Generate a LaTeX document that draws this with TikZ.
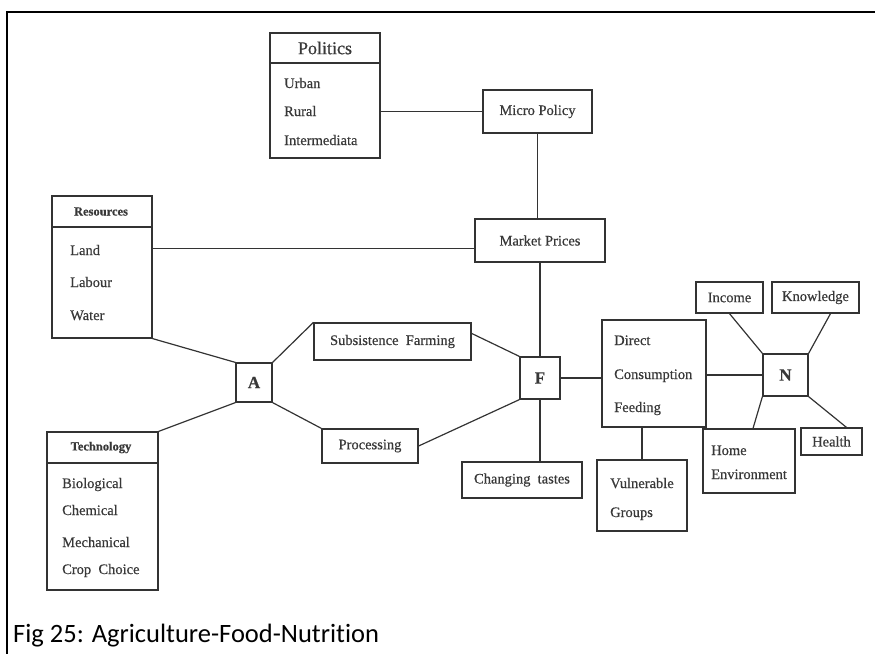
\documentclass[tikz,border=0pt]{standalone}
\usepackage{fontspec}
\setmainfont[FakeBold=0.5]{Liberation Serif}
\newfontfamily\capfont[Ligatures={NoCommon}]{Carlito}
\usetikzlibrary{calc}
\definecolor{ink}{HTML}{333333}
\definecolor{txt}{HTML}{383838}
\tikzset{
  box/.style={draw=ink, line width=1.2pt, inner sep=0pt},
  link/.style={draw=ink, line width=1.2pt},
  lbl/.style={text=txt, font=\fontsize{14.5}{17}\selectfont, inner sep=0pt},
  item/.style={lbl, anchor=base west},
  hub/.style={box, text=txt, font=\bfseries\fontsize{17}{20}\selectfont},
  head/.style={text=txt, font=\bfseries\fontsize{12.5}{15}\selectfont, inner sep=0pt},
}
\begin{document}
\begin{tikzpicture}[x=1pt,y=-1pt]
\useasboundingbox (0,0) rectangle (875,654);

% outer frame (top and left edges)
\draw[line width=2pt, black] (875,12) -- (7,12) -- (7,654);

% Politics
\node[box, minimum width=110pt, minimum height=125pt] (pol) at (325,95.5) {};
\draw[link] (pol.west |- 0,63) -- (pol.east |- 0,63);
\node[text=txt, font=\fontsize{18}{21}\selectfont, inner sep=0pt] (polh) at (325,48) {Politics};
\node[item] (pol1) at (284,88) {Urban};
\node[item] (pol2) at (284,116) {Rural};
\node[item] (pol3) at (284,145) {Intermediata};

% Micro policy and market prices
\node[box, lbl, minimum width=109pt, minimum height=43pt] (micro) at (537.5,111.5) {Micro Policy};
\node[box, lbl, minimum width=130pt, minimum height=43pt] (market) at (540,240.5) {Market Prices};

% Resources
\node[box, minimum width=100pt, minimum height=142pt] (res) at (102,267) {};
\draw[link] (res.west |- 0,227) -- (res.east |- 0,227);
\node[head] (resh) at (101,211.5) {Resources};
\node[item] (res1) at (70,255) {Land};
\node[item] (res2) at (70,287) {Labour};
\node[item] (res3) at (70,320) {Water};

% Technology
\node[box, minimum width=111pt, minimum height=158pt] (tech) at (102.5,511) {};
\draw[link] (tech.west |- 0,463) -- (tech.east |- 0,463);
\node[head] (techh) at (101,447.5) {Technology};
\node[item] (tech1) at (62,488) {Biological};
\node[item] (tech2) at (62,515) {Chemical};
\node[item] (tech3) at (62,547) {Mechanical};
\node[item] (tech4) at (62,574) {Crop\ \ Choice};

% Agriculture hub and its two paths
\node[hub, minimum width=36pt, minimum height=39pt] (A) at (254,382.5) {A};
\node[box, lbl, minimum width=157pt, minimum height=37pt] (sub) at (392.5,341.5) {Subsistence\ \ Farming};
\node[box, lbl, minimum width=96pt, minimum height=34pt] (proc) at (370,446) {Processing};

% Food hub
\node[hub, minimum width=40pt, minimum height=42pt] (F) at (540,378) {F};
\node[box, lbl, minimum width=120pt, minimum height=36pt] (chg) at (522,480) {Changing\ \ tastes};

% Consumption
\node[box, minimum width=104pt, minimum height=107pt] (dir) at (654,373.5) {};
\node[item] (dir1) at (614,345) {Direct};
\node[item] (dir2) at (614,379) {Consumption};
\node[item] (dir3) at (614,412) {Feeding};

\node[box, minimum width=90pt, minimum height=71pt] (vul) at (642,495.5) {};
\node[item] (vul1) at (610,488) {Vulnerable};
\node[item] (vul2) at (610,517) {Groups};

% Nutrition hub and its factors
\node[hub, minimum width=45pt, minimum height=42pt] (N) at (785.5,375) {N};
\node[box, lbl, minimum width=67pt, minimum height=31pt] (inc) at (729.5,297.5) {Income};
\node[box, lbl, minimum width=87pt, minimum height=31pt] (kn) at (815.5,297.5) {Knowledge};
\node[box, minimum width=92pt, minimum height=64pt] (home) at (749,461) {};
\node[item] (home1) at (711,455) {Home};
\node[item] (home2) at (711,479) {Environment};
\node[box, lbl, minimum width=61pt, minimum height=27pt] (hl) at (831.5,441.5) {Health};

% connectors
\coordinate (mpin) at ([yshift=-8pt]market.west);
\coordinate (subout) at ([yshift=-11pt]sub.north east);
\coordinate (knout) at ([xshift=15pt]kn.south);
\coordinate (homein) at ([xshift=4pt]home.north);
\coordinate (hlin) at ([xshift=15pt]hl.north);

\draw[link] (micro.west) -- (micro.west -| pol.east);
\draw[link] (micro.south) -- (micro.south |- market.north);
\draw[link] (mpin) -- (mpin -| res.east);
\draw[link] (market.south) -- (F.north);
\draw[link] (res.south east) -- (A.north west);
\draw[link] (tech.north east) -- (A.south west);
\draw[link] (A.north east) -- (sub.north west);
\draw[link] (A.south east) -- (proc.north west);
\draw[link] (subout) -- (F.north west);
\draw[link] (proc.east) -- (F.south west);
\draw[link] (F.south) -- (F.south |- chg.north);
\draw[link] (F.east) -- (F.east -| dir.west);
\draw[link] (N.west) -- (N.west -| dir.east);
\draw[link] (vul.north) -- (vul.north |- dir.south);
\draw[link] (inc.south) -- (N.north west);
\draw[link] (knout) -- (N.north east);
\draw[link] (N.south west) -- (homein);
\draw[link] (N.south east) -- (hlin);

% caption
\node[anchor=base west, inner sep=0pt, font=\capfont\fontsize{26.5}{30}\selectfont] (cap) at (13,642) {Fig 25: Agriculture-Food-Nutrition};
\end{tikzpicture}
\end{document}
